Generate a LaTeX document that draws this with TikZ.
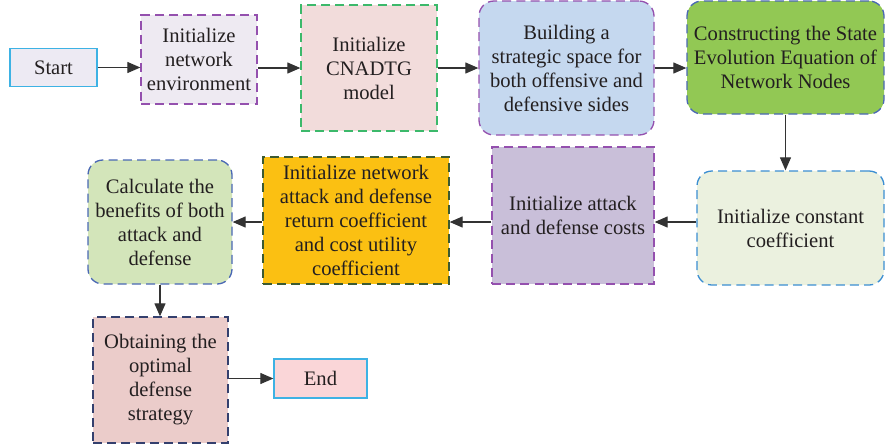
\documentclass[tikz,border=0pt]{standalone}
\usepackage{fontspec}
\setmainfont{Liberation Serif}
\usepackage{xcolor}
\usetikzlibrary{arrows.meta}

\definecolor{txtgray}{HTML}{231F20}
\definecolor{lineblue}{HTML}{3DB2E4}
\definecolor{dashpurple}{HTML}{9450AE}
\definecolor{dashgreen}{HTML}{3CB96B}
\definecolor{dashblue}{HTML}{4A68B4}
\definecolor{dashsky}{HTML}{3B8ED2}
\definecolor{dashdark}{HTML}{3C5A32}
\definecolor{dashnavy}{HTML}{34406E}

\begin{document}
\begin{tikzpicture}[x=0.5pt, y=-0.5pt,
  box/.style={rectangle, align=center, text=txtgray, inner sep=1pt,
    font=\fontsize{10.3}{12}\selectfont, line width=0.65pt},
  dbox/.style={box, dash pattern=on 4.5pt off 2.6pt},
  rbox/.style={dbox, rounded corners=7.5pt},
  arr/.style={-{Triangle[length=6.5pt, width=5.5pt]}, line width=0.6pt, draw=black!80}]
  \useasboundingbox (0,0) rectangle (885,446);

  % ---- first row ----
  \node[box, draw=lineblue, fill={rgb,255:red,237;green,234;blue,243},
        minimum width=43.5pt, minimum height=19pt] (start) at (53.5,67.5) {Start};
  \node[dbox, draw=dashpurple, fill={rgb,255:red,238;green,234;blue,242},
        minimum width=58pt, minimum height=44.5pt] (env) at (199,59.5)
        {Initialize\\network\\environment};
  \node[dbox, draw=dashgreen, fill={rgb,255:red,242;green,220;blue,219},
        minimum width=68pt, minimum height=63pt] (cnadtg) at (369,68)
        {Initialize\\CNADTG\\model};
  \node[rbox, draw=dashpurple, fill={rgb,255:red,197;green,216;blue,239},
        minimum width=87.5pt, minimum height=67pt] (space) at (566.5,68)
        {Building a\\strategic space for\\both offensive and\\defensive sides};
  \node[rbox, draw=dashblue, fill={rgb,255:red,146;green,200;blue,84},
        minimum width=98.5pt, minimum height=56.5pt] (evol) at (785.5,57.5)
        {Constructing the State\\Evolution Equation of\\Network Nodes};

  % ---- second row, right to left ----
  \node[rbox, draw=dashsky, fill={rgb,255:red,235;green,241;blue,223},
        minimum width=93.5pt, minimum height=57pt] (const) at (790.5,228)
        {Initialize constant\\coefficient};
  \node[dbox, draw=dashpurple, fill={rgb,255:red,201;green,191;blue,217},
        minimum width=81pt, minimum height=68.5pt] (costs) at (573,215.5)
        {Initialize attack\\and defense costs};
  \node[dbox, draw=dashdark, fill={rgb,255:red,251;green,192;blue,18},
        minimum width=93pt, minimum height=63.5pt] (coef) at (356,220.5)
        {Initialize network\\attack and defense\\return coefficient\\and cost utility\\coefficient};
  \node[rbox, draw=dashblue, fill={rgb,255:red,211;green,229;blue,186},
        minimum width=72pt, minimum height=62pt] (bene) at (160,222)
        {Calculate the\\benefits of both\\attack and\\defense};

  % ---- last row ----
  \node[dbox, draw=dashnavy, fill={rgb,255:red,235;green,204;blue,202},
        minimum width=67.5pt, minimum height=63pt] (opt) at (160.5,380)
        {Obtaining the\\optimal\\defense\\strategy};
  \node[box, draw=lineblue, fill={rgb,255:red,250;green,214;blue,216},
        minimum width=46.5pt, minimum height=19.5pt] (endn) at (320.5,378.5) {End};

  \coordinate (rowa) at (0,68);
  \coordinate (rowb) at (0,222);

  % ---- arrows ----
  \draw[arr] (start.east) -- (start.east -| env.west);
  \draw[arr] (env.east |- rowa) -- (cnadtg.west |- rowa);
  \draw[arr] (cnadtg.east |- rowa) -- (space.west |- rowa);
  \draw[arr] (space.east |- rowa) -- (evol.west |- rowa);
  \draw[arr] (evol.south) -- (evol.south |- const.north);
  \draw[arr] (const.west |- rowb) -- (costs.east |- rowb);
  \draw[arr] (costs.west |- rowb) -- (coef.east |- rowb);
  \draw[arr] (coef.west |- rowb) -- (bene.east |- rowb);
  \draw[arr] (bene.south) -- (bene.south |- opt.north);
  \draw[arr] (opt.east |- endn) -- (endn.west);
\end{tikzpicture}
\end{document}
